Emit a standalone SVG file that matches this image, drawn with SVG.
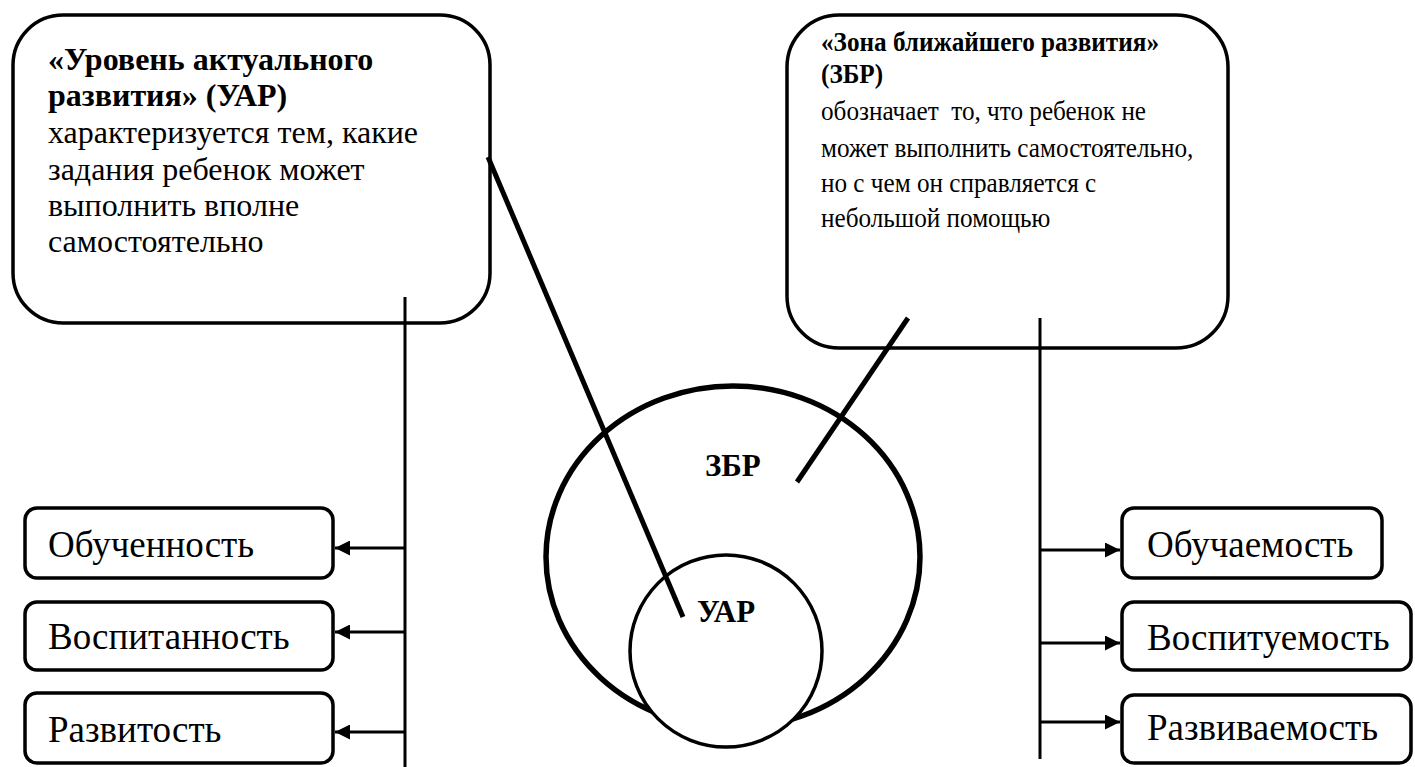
<svg xmlns="http://www.w3.org/2000/svg" width="1415" height="767" viewBox="0 0 1415 767">
<defs>
<style>
.box{fill:#fff;stroke:#000;stroke-width:3.5}
.sbox{fill:#fff;stroke:#000;stroke-width:3.5}
text{font-family:'Liberation Serif','Times New Roman',serif;fill:#000}
.b{font-weight:bold}
.ln{stroke:#000;stroke-width:3;fill:none}
.thick{stroke:#000;stroke-width:5;fill:none}
.lt{font-size:32px}
.rt{font-size:28px}
.it{font-size:37px}
.lbl{font-size:31px;font-weight:bold}
</style>
<marker id="ah" viewBox="0 0 10 10" refX="10" refY="5" markerWidth="16" markerHeight="15" markerUnits="userSpaceOnUse" orient="auto">
<path d="M0,0 L10,5 L0,10 Z" fill="#000"/>
</marker>
</defs>
<rect width="1415" height="767" fill="#fff"/>

<g id="uar-box">
<rect class="box" x="13" y="15" width="477" height="308" rx="50" ry="50"/>
<text class="lt b" x="48" y="70">«Уровень актуального</text>
<text class="lt b" x="48" y="106">развития» (УАР)</text>
<text class="lt" x="48" y="143">характеризуется тем, какие</text>
<text class="lt" x="48" y="180">задания ребенок может</text>
<text class="lt" x="48" y="216">выполнить вполне</text>
<text class="lt" x="48" y="252">самостоятельно</text>
</g>

<g id="zbr-box">
<rect class="box" x="787" y="15" width="441" height="333" rx="52" ry="52"/>
<g transform="translate(821,0) scale(0.9,1)">
<text class="rt b" x="0" y="51">«Зона ближайшего развития»</text>
<text class="rt b" x="0" y="83">(ЗБР)</text>
<text class="rt" x="0" y="120" xml:space="preserve">обозначает  то, что ребенок не</text>
<text class="rt" x="0" y="157">может выполнить самостоятельно,</text>
<text class="rt" x="0" y="192">но с чем он справляется с</text>
<text class="rt" x="0" y="227">небольшой помощью</text>
</g>
</g>

<g id="circles">
<ellipse cx="733" cy="557" rx="187" ry="171" fill="#fff" stroke="#000" stroke-width="5.5"/>
<text class="lbl" x="705" y="476">ЗБР</text>
<circle cx="726" cy="651" r="96" fill="#fff" stroke="#000" stroke-width="3.5"/>
<text class="lbl" x="697" y="622">УАР</text>
</g>

<g id="connectors">
<line class="thick" x1="488" y1="157" x2="683" y2="617"/>
<line class="thick" x1="908" y1="318" x2="797" y2="482"/>
<line class="ln" x1="405" y1="297" x2="405" y2="767"/>
<line class="ln" x1="1040" y1="318" x2="1040" y2="759"/>
<line class="ln" x1="405" y1="548" x2="335" y2="548" marker-end="url(#ah)"/>
<line class="ln" x1="405" y1="632" x2="335" y2="632" marker-end="url(#ah)"/>
<line class="ln" x1="405" y1="732" x2="335" y2="732" marker-end="url(#ah)"/>
<line class="ln" x1="1040" y1="550" x2="1120" y2="550" marker-end="url(#ah)"/>
<line class="ln" x1="1040" y1="643" x2="1120" y2="643" marker-end="url(#ah)"/>
<line class="ln" x1="1040" y1="722" x2="1120" y2="722" marker-end="url(#ah)"/>
</g>

<g id="obuchennost">
<rect class="sbox" x="25" y="508" width="308" height="70" rx="12" ry="12"/>
<text class="it" x="48" y="557">Обученность</text>
</g>
<g id="vospitannost">
<rect class="sbox" x="25" y="602" width="308" height="68" rx="12" ry="12"/>
<text class="it" x="48" y="649">Воспитанность</text>
</g>
<g id="razvitost">
<rect class="sbox" x="25" y="693" width="308" height="70" rx="12" ry="12"/>
<text class="it" x="48" y="742">Развитость</text>
</g>
<g id="obuchaemost">
<rect class="sbox" x="1122" y="508" width="260" height="70" rx="12" ry="12"/>
<text class="it" x="1147" y="557">Обучаемость</text>
</g>
<g id="vospituemost">
<rect class="sbox" x="1122" y="602" width="289" height="68" rx="12" ry="12"/>
<text class="it" x="1147" y="650">Воспитуемость</text>
</g>
<g id="razvivaemost">
<rect class="sbox" x="1122" y="695" width="289" height="68" rx="12" ry="12"/>
<text class="it" x="1147" y="740">Развиваемость</text>
</g>
</svg>
